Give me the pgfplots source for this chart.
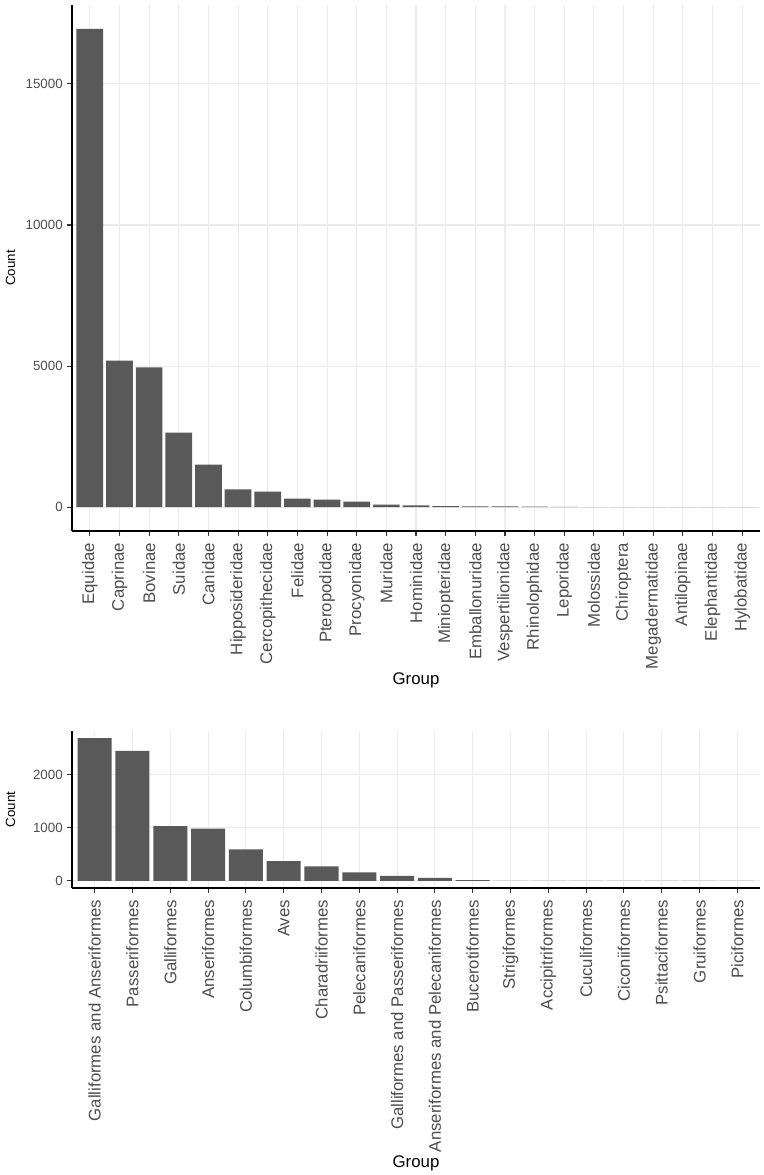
\documentclass[border=0pt]{standalone}
\usepackage{pgfplots}
\pgfplotsset{compat=1.18}
\usepackage{fontspec}
\setmainfont{Liberation Sans}
\definecolor{barfill}{HTML}{595959}
\definecolor{gridc}{HTML}{EBEBEB}
\definecolor{ticktxt}{HTML}{4D4D4D}
\definecolor{tickc}{HTML}{333333}

\pgfplotsset{
  ggbars/.style={
    anchor=north west,
    scale only axis,
    width=516pt,
    axis x line*=bottom,
    axis y line*=left,
    axis line style={black, line width=0.8pt},
    tick align=outside,
    major tick length=3.75pt,
    tick style={tickc, line width=0.8pt},
    grid=major,
    major grid style={gridc, line width=0.8pt},
    ybar,
    bar width=0.9,
    xmin=-0.6,
    scaled y ticks=false,
    /pgf/number format/assume math mode=true,
    /pgf/number format/1000 sep={},
    yticklabel style={font=\fontsize{10}{12}\selectfont, text=ticktxt, inner sep=0pt, xshift=-3pt},
    xticklabel style={font=\fontsize{12.6}{15}\selectfont, text=ticktxt, rotate=90, anchor=east, inner sep=0pt, xshift=-5pt},
    ylabel style={font=\fontsize{10}{12}\selectfont, anchor=center},
    xlabel style={font=\fontsize{12.6}{15}\selectfont, anchor=base},
  }
}

\begin{document}
\begin{tikzpicture}
\path[use as bounding box] (0,0) rectangle (573pt,-881.25pt);

% mammals
\begin{axis}[
  ggbars,
  at={(54pt,-3.75pt)},
  height=394.5pt,
  xmax=22.6,
  ymin=-847.5, ymax=17797.5,
  ytick={0,5000,10000,15000},
  xtick={0,...,22},
  xticklabels={Equidae,Caprinae,Bovinae,Suidae,Canidae,Hipposideridae,Cercopithecidae,Felidae,Pteropodidae,Procyonidae,Muridae,Hominidae,Miniopteridae,Emballonuridae,Vespertilionidae,Rhinolophidae,Leporidae,Molossidae,Chiroptera,Megadermatidae,Antilopinae,Elephantidae,Hylobatidae},
  xlabel=Group,
  ylabel=Count,
  xlabel style={at={(axis description cs:0.5,-0.2909)}},
  ylabel style={at={(axis description cs:-0.0894,0.5)}},
]
\addplot[fill=barfill, draw=none] coordinates {
(0,16950) (1,5190) (2,4950) (3,2640) (4,1510) (5,630) (6,545) (7,296)
(8,261) (9,190) (10,85) (11,60) (12,35) (13,25) (14,25) (15,20) (16,10)
(17,2) (18,1) (19,1) (20,1) (21,1) (22,1)
};
\end{axis}

% birds
\begin{axis}[
  ggbars,
  at={(54pt,-548.25pt)},
  height=117.75pt,
  xmax=17.6,
  ymin=-134.5, ymax=2824.5,
  ytick={0,1000,2000},
  xtick={0,...,17},
  xticklabels={Galliformes and Anseriformes,Passeriformes,Galliformes,Anseriformes,Columbiformes,Aves,Charadriiformes,Pelecaniformes,Galliformes and Passeriformes,Anseriformes and Pelecaniformes,Bucerotiformes,Strigiformes,Accipitriformes,Cuculiformes,Ciconiiformes,Psittaciformes,Gruiformes,Piciformes},
  xlabel=Group,
  ylabel=Count,
  xlabel style={at={(axis description cs:0.5,-1.777)}},
  ylabel style={at={(axis description cs:-0.0894,0.5)}},
]
\addplot[fill=barfill, draw=none] coordinates {
(0,2690) (1,2450) (2,1030) (3,985) (4,593) (5,373) (6,271) (7,158)
(8,95) (9,55) (10,12) (11,2) (12,1) (13,1) (14,1) (15,1) (16,1) (17,1)
};
\end{axis}
\end{tikzpicture}
\end{document}
